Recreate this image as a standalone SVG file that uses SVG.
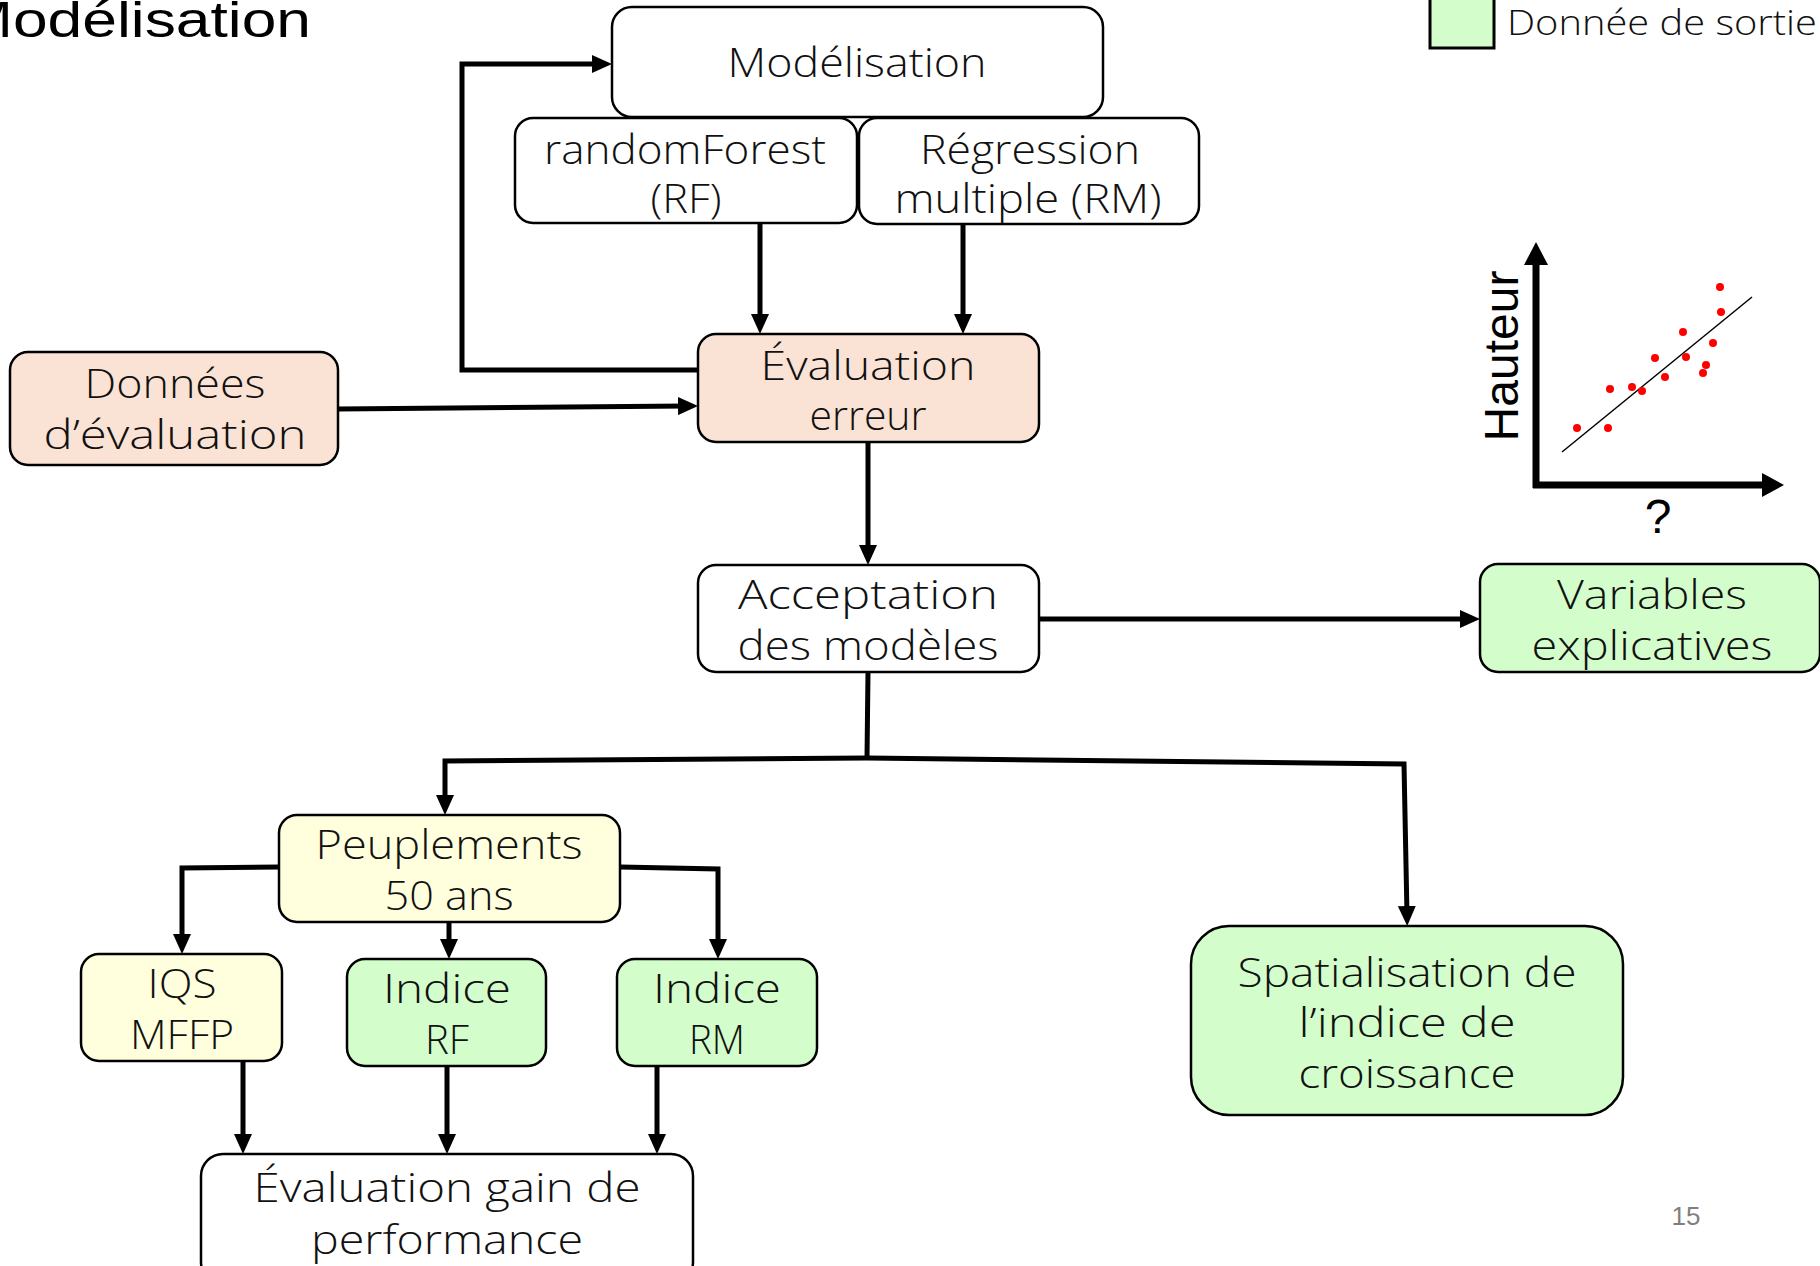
<svg xmlns="http://www.w3.org/2000/svg" width="1820" height="1266" viewBox="0 0 1820 1266">
<style>
.box{stroke:#000;stroke-width:2.5}
.w{fill:#fff}
.p{fill:#FAE3D4}
.y{fill:#FFFFDE}
.g{fill:#D3FDCB}
.t{font-family:"Open Sans","DejaVu Sans",sans-serif;font-weight:300;font-size:41px;fill:#111;text-anchor:middle}
.c{fill:none;stroke:#000;stroke-width:5}
</style>
<defs>
<marker id="arr" markerUnits="userSpaceOnUse" markerWidth="20" markerHeight="18" refX="9" refY="9" orient="auto">
<path d="M0,0 L20,9 L0,18 z" fill="#000"/>
</marker>
</defs>
<rect width="1820" height="1266" fill="#fff"/>
<text x="-39" y="37" font-family="Liberation Sans, sans-serif" font-size="50" textLength="350" lengthAdjust="spacingAndGlyphs" fill="#000">Modélisation</text>

<g id="legend">
<rect x="1430" y="-3" width="64" height="51" fill="#D3FDCB" stroke="#000" stroke-width="3"/>
<text x="1507" y="35" font-family="Open Sans, DejaVu Sans, sans-serif" font-weight="300" font-size="35" textLength="310" lengthAdjust="spacingAndGlyphs" fill="#111">Donnée de sortie</text>
</g>

<g id="connectors">
<path class="c" d="M698,370 H462 V64 H601" marker-end="url(#arr)"/>
<path class="c" d="M338,409 L687,406" marker-end="url(#arr)"/>
<path class="c" d="M760,223 V323" marker-end="url(#arr)"/>
<path class="c" d="M963,224 V323" marker-end="url(#arr)"/>
<path class="c" d="M868,442 V554" marker-end="url(#arr)"/>
<path class="c" d="M1039,619 H1469" marker-end="url(#arr)"/>
<path class="c" d="M868,672 L867,758"/>
<path class="c" d="M867,758 L445,761 V804" marker-end="url(#arr)"/>
<path class="c" d="M867,758 L1404,764 L1407,915" marker-end="url(#arr)"/>
<path class="c" d="M279,867 L182,868 V943" marker-end="url(#arr)"/>
<path class="c" d="M620,867 L718,869 V948" marker-end="url(#arr)"/>
<path class="c" d="M449,922 V948" marker-end="url(#arr)"/>
<path class="c" d="M243,1061 V1143" marker-end="url(#arr)"/>
<path class="c" d="M447,1066 V1143" marker-end="url(#arr)"/>
<path class="c" d="M657,1066 V1143" marker-end="url(#arr)"/>
</g>

<g id="modelisation">
<rect class="box w" x="612" y="7" width="491" height="110" rx="20"/>
<text class="t" x="857" y="77" textLength="259" lengthAdjust="spacingAndGlyphs">Modélisation</text>
</g>
<g id="rf">
<rect class="box w" x="515" y="118" width="342" height="105" rx="18"/>
<text class="t" x="685" y="164" textLength="282" lengthAdjust="spacingAndGlyphs">randomForest</text>
<text class="t" x="686" y="213" textLength="71" lengthAdjust="spacingAndGlyphs">(RF)</text>
</g>
<g id="rm">
<rect class="box w" x="859" y="118" width="340" height="106" rx="18"/>
<text class="t" x="1030" y="164" textLength="220" lengthAdjust="spacingAndGlyphs">Régression</text>
<text class="t" x="1028" y="213" textLength="267" lengthAdjust="spacingAndGlyphs">multiple (RM)</text>
</g>
<g id="eval-erreur">
<rect class="box p" x="698" y="334" width="341" height="108" rx="18"/>
<text class="t" x="868" y="380" textLength="215" lengthAdjust="spacingAndGlyphs">Évaluation</text>
<text class="t" x="868" y="430" textLength="117" lengthAdjust="spacingAndGlyphs">erreur</text>
</g>
<g id="donnees-eval">
<rect class="box p" x="10" y="352" width="328" height="113" rx="18"/>
<text class="t" x="175" y="398" textLength="181" lengthAdjust="spacingAndGlyphs">Données</text>
<text class="t" x="175" y="449" textLength="263" lengthAdjust="spacingAndGlyphs">d’évaluation</text>
</g>
<g id="acceptation">
<rect class="box w" x="698" y="565" width="341" height="107" rx="18"/>
<text class="t" x="868" y="609" textLength="260" lengthAdjust="spacingAndGlyphs">Acceptation</text>
<text class="t" x="868" y="660" textLength="261" lengthAdjust="spacingAndGlyphs">des modèles</text>
</g>
<g id="variables">
<rect class="box g" x="1480" y="564" width="340" height="108" rx="18"/>
<text class="t" x="1652" y="609" textLength="190" lengthAdjust="spacingAndGlyphs">Variables</text>
<text class="t" x="1652" y="660" textLength="241" lengthAdjust="spacingAndGlyphs">explicatives</text>
</g>
<g id="peuplements">
<rect class="box y" x="279" y="815" width="341" height="107" rx="18"/>
<text class="t" x="449" y="859" textLength="267" lengthAdjust="spacingAndGlyphs">Peuplements</text>
<text class="t" x="449" y="910" textLength="129" lengthAdjust="spacingAndGlyphs">50 ans</text>
</g>
<g id="iqs">
<rect class="box y" x="81" y="954" width="201" height="107" rx="18"/>
<text class="t" x="182" y="998" textLength="69" lengthAdjust="spacingAndGlyphs">IQS</text>
<text class="t" x="182" y="1049" textLength="104" lengthAdjust="spacingAndGlyphs">MFFP</text>
</g>
<g id="indice-rf">
<rect class="box g" x="347" y="959" width="199" height="107" rx="18"/>
<text class="t" x="447" y="1003" textLength="128" lengthAdjust="spacingAndGlyphs">Indice</text>
<text class="t" x="447" y="1054" textLength="44" lengthAdjust="spacingAndGlyphs">RF</text>
</g>
<g id="indice-rm">
<rect class="box g" x="617" y="959" width="200" height="107" rx="18"/>
<text class="t" x="717" y="1003" textLength="128" lengthAdjust="spacingAndGlyphs">Indice</text>
<text class="t" x="717" y="1054" textLength="56" lengthAdjust="spacingAndGlyphs">RM</text>
</g>
<g id="eval-gain">
<rect class="box w" x="201" y="1154" width="492" height="130" rx="22"/>
<text class="t" x="447" y="1202" textLength="387" lengthAdjust="spacingAndGlyphs">Évaluation gain de</text>
<text class="t" x="447" y="1254" textLength="272" lengthAdjust="spacingAndGlyphs">performance</text>
</g>
<g id="spatialisation">
<rect class="box g" x="1191" y="926" width="432" height="189" rx="38"/>
<text class="t" x="1407" y="987" textLength="339" lengthAdjust="spacingAndGlyphs">Spatialisation de</text>
<text class="t" x="1407" y="1037" textLength="217" lengthAdjust="spacingAndGlyphs">l’indice de</text>
<text class="t" x="1407" y="1088" textLength="217" lengthAdjust="spacingAndGlyphs">croissance</text>
</g>

<g id="chart">
<line x1="1536" y1="488" x2="1536" y2="262" stroke="#000" stroke-width="7"/>
<polygon points="1536,242 1524,265 1548,265" fill="#000"/>
<line x1="1533" y1="485" x2="1764" y2="485" stroke="#000" stroke-width="7"/>
<polygon points="1784,485 1762,473 1762,497" fill="#000"/>
<line x1="1562" y1="452" x2="1752" y2="297" stroke="#000" stroke-width="1.5"/>
<g fill="#FF0000">
<circle cx="1577" cy="428" r="4"/>
<circle cx="1608" cy="428" r="4"/>
<circle cx="1610" cy="389" r="4"/>
<circle cx="1632" cy="387" r="4"/>
<circle cx="1642" cy="391" r="4"/>
<circle cx="1655" cy="358" r="4"/>
<circle cx="1665" cy="377" r="4"/>
<circle cx="1683" cy="332" r="4"/>
<circle cx="1686" cy="357" r="4"/>
<circle cx="1703" cy="373" r="4"/>
<circle cx="1706" cy="365" r="4"/>
<circle cx="1713" cy="343" r="4"/>
<circle cx="1720" cy="287" r="4"/>
<circle cx="1721" cy="312" r="4"/>
</g>
<text transform="translate(1518,356) rotate(-90)" text-anchor="middle" font-family="Liberation Sans, sans-serif" font-size="48" fill="#000">Hauteur</text>
<text x="1658" y="533" text-anchor="middle" font-family="Liberation Sans, sans-serif" font-size="48" fill="#000">?</text>
</g>

<text x="1686" y="1225" text-anchor="middle" font-family="Liberation Sans, sans-serif" font-size="26" fill="#7F7F7F">15</text>
</svg>
